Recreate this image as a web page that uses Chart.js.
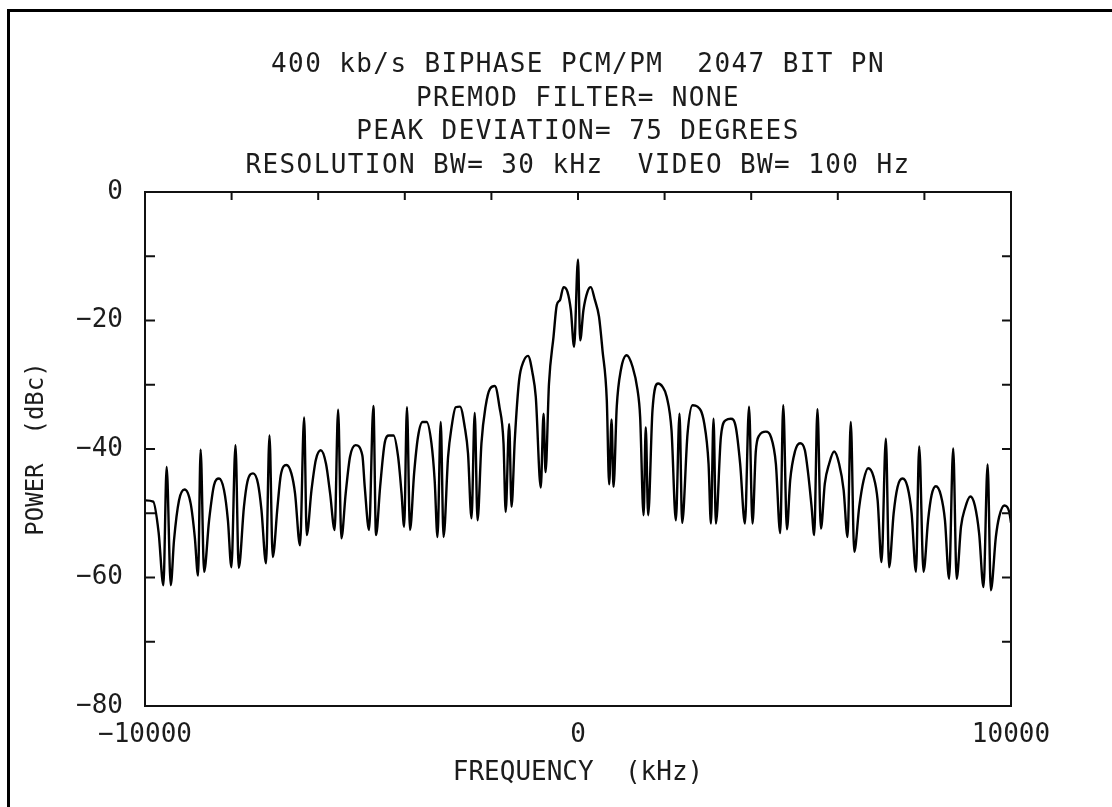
<!DOCTYPE html>
<html>
<head>
<meta charset="utf-8">
<title>Biphase PCM/PM spectrum</title>
<script src="https://cdn.jsdelivr.net/npm/chart.js@4.4.0/dist/chart.umd.min.js"></script>
<style>
  html, body { margin: 0; padding: 0; background: #fff; }
  #wrap { position: relative; width: 1112px; height: 807px; }
</style>
</head>
<body>
<div id="wrap"><canvas id="spectrum"></canvas></div>
<script>
const titleLines = [
    "400 kb/s BIPHASE PCM/PM  2047 BIT PN",
    "PREMOD FILTER= NONE",
    "PEAK DEVIATION= 75 DEGREES",
    "RESOLUTION BW= 30 kHz  VIDEO BW= 100 Hz",
];

// frequency offset (kHz) / power (dBc)
const freqKHz = [
    -10000, -9810, -9685, -9575, -9500, -9405, -9330, -9215, -9085, -8945,
    -8850, -8775, -8715, -8635, -8520, -8405, -8290, -8175, -8085, -8005,
    -7910, -7835, -7715, -7635, -7505, -7390, -7310, -7205, -7125, -7050,
    -6940, -6865, -6735, -6620, -6535, -6420, -6325, -6265, -6155, -6055,
    -5940, -5820, -5725, -5620, -5540, -5465, -5365, -5265, -5135, -4980,
    -4925, -4825, -4725, -4665, -4570, -4465, -4365, -4260, -4155, -4075,
    -4015, -3950, -3880, -3785, -3695, -3590, -3495, -3385, -3310, -3245,
    -3170, -3105, -3000, -2920, -2825, -2725, -2615, -2540, -2460, -2385,
    -2320, -2230, -2135, -2030, -1920, -1815, -1720, -1670, -1590, -1535,
    -1460, -1360, -1260, -1155, -1050, -975, -860, -795, -750, -670,
    -565, -490, -415, -335, -245, -165, -90, 0, 50, 125,
    220, 295, 390, 485, 565, 665, 720, 775, 820, 895,
    990, 1125, 1260, 1375, 1435, 1515, 1565, 1620, 1720, 1850,
    1950, 2050, 2160, 2260, 2345, 2405, 2530, 2645, 2760, 2915,
    3015, 3070, 3130, 3185, 3300, 3415, 3530, 3645, 3745, 3855,
    3950, 4030, 4105, 4185, 4340, 4455, 4570, 4670, 4740, 4825,
    4900, 5010, 5130, 5240, 5315, 5395, 5455, 5530, 5610, 5700,
    5800, 5915, 6030, 6135, 6225, 6300, 6380, 6495, 6595, 6700,
    6825, 6920, 7010, 7110, 7185, 7290, 7380, 7495, 7610, 7705,
    7805, 7880, 7980, 8085, 8165, 8265, 8380, 8475, 8570, 8665,
    8745, 8845, 8935, 9060, 9165, 9265, 9365, 9460, 9535, 9650,
    9725, 9845, 9960, 10000,
];
const powerDbc = [
    -48.0, -48.2, -53.0, -61.2, -42.8, -61.2, -54.2, -48.0, -46.3, -48.5,
    -53.7, -59.7, -40.1, -59.1, -51.1, -45.6, -44.6, -46.4, -51.1, -58.4,
    -39.4, -58.5, -49.0, -45.1, -43.8, -45.4, -49.5, -57.8, -37.9, -56.8,
    -49.0, -44.1, -42.5, -43.8, -46.9, -55.0, -35.1, -53.4, -46.4, -41.7,
    -40.2, -42.3, -46.9, -52.6, -33.9, -53.9, -46.9, -41.2, -39.4, -41.0,
    -45.9, -52.6, -33.3, -53.4, -45.9, -39.1, -37.9, -37.9, -41.2, -46.9,
    -52.1, -33.5, -52.6, -43.8, -38.1, -35.8, -35.8, -39.1, -44.9, -53.7,
    -35.8, -53.7, -41.2, -36.6, -33.5, -33.4, -36.6, -40.7, -50.8, -34.4,
    -51.1, -39.1, -33.4, -30.6, -30.2, -33.4, -39.1, -49.8, -36.1, -49.0,
    -38.6, -29.3, -26.4, -25.5, -28.2, -31.9, -46.0, -34.5, -43.6, -29.8,
    -22.5, -17.6, -16.8, -14.8, -15.5, -18.4, -24.1, -10.5, -23.1, -18.4,
    -15.5, -14.8, -16.8, -19.4, -24.6, -32.4, -45.5, -35.4, -45.9, -33.4,
    -27.7, -25.4, -27.2, -30.8, -35.0, -50.3, -36.6, -50.3, -34.0, -29.8,
    -30.3, -31.9, -37.1, -51.1, -34.5, -51.5, -37.6, -33.2, -33.4, -36.0,
    -42.3, -51.6, -35.3, -51.6, -38.1, -35.5, -35.3, -36.6, -42.3, -51.6,
    -33.4, -51.6, -40.5, -37.9, -37.3, -38.1, -42.3, -53.1, -33.2, -52.5,
    -44.9, -40.4, -39.1, -40.2, -43.8, -49.0, -53.4, -33.8, -52.4, -45.4,
    -42.3, -40.4, -42.3, -46.4, -53.7, -35.8, -56.0, -49.0, -44.9, -43.0,
    -44.3, -48.0, -57.6, -38.4, -58.4, -50.0, -45.9, -44.6, -45.9, -50.0,
    -59.1, -39.6, -59.1, -51.1, -47.2, -45.8, -47.2, -51.1, -60.2, -39.9,
    -60.2, -52.1, -49.3, -47.4, -48.8, -53.2, -61.5, -42.4, -62.0, -53.7,
    -50.6, -48.8, -49.8, -51.5,
];

const xLabelValues = [-10000, 0, 10000];
const yLabelValues = [0, -20, -40, -60, -80];

const INK = "#1c1c1c";
const MONO = '"DejaVu Sans Mono", "Liberation Mono", monospace';

// minus sign on the sheet is a long dash
const fmt = (v) => (v < 0 ? "\u2212" + Math.abs(v) : String(v));

// sheet edge, plot frame, inward tick marks and the 4-line heading
const plotterFrame = {
    id: "plotterFrame",
    beforeDraw(chart) {
        const ctx = chart.ctx;
        ctx.save();
        ctx.fillStyle = "#fff";
        ctx.fillRect(0, 0, chart.width, chart.height);
        ctx.fillStyle = "#000";
        ctx.fillRect(7, 9, 3, chart.height - 9);
        ctx.fillRect(7, 9, chart.width - 7, 3);
        ctx.restore();
    },
    afterDraw(chart) {
        const { ctx, chartArea: a, scales } = chart;
        ctx.save();
        ctx.strokeStyle = "#111";
        ctx.lineWidth = 2;
        ctx.strokeRect(a.left, a.top, a.right - a.left, a.bottom - a.top);

        ctx.beginPath();
        scales.x.ticks.forEach((t) => {
            const px = scales.x.getPixelForValue(t.value);
            ctx.moveTo(px, a.top);
            ctx.lineTo(px, a.top + 8);
        });
        scales.y.ticks.forEach((t) => {
            const py = scales.y.getPixelForValue(t.value);
            ctx.moveTo(a.left, py);
            ctx.lineTo(a.left + 10, py);
            ctx.moveTo(a.right, py);
            ctx.lineTo(a.right - 9, py);
        });
        ctx.stroke();

        ctx.fillStyle = INK;
        ctx.font = "26px " + MONO;
        ctx.letterSpacing = "1.4px";
        ctx.textAlign = "center";
        ctx.textBaseline = "alphabetic";
        const cx = (a.left + a.right) / 2;
        titleLines.forEach((line, i) => ctx.fillText(line, cx, 72 + i * 33.7));
        ctx.restore();
    },
};

const ctx = document.getElementById("spectrum");
new Chart(ctx, {
    type: "line",
    data: {
        datasets: [
            {
                label: "Power",
                data: freqKHz.map((f, i) => ({ x: f, y: powerDbc[i] })),
                borderColor: "#000",
                borderWidth: 2.4,
                pointRadius: 0,
                cubicInterpolationMode: "monotone",
                fill: false,
            },
        ],
    },
    options: {
        responsive: true,
        maintainAspectRatio: false,
        animation: false,
        devicePixelRatio: 1,
        layout: { padding: { top: 192, right: 101, bottom: 0, left: 0 } },
        plugins: {
            legend: { display: false },
            tooltip: { enabled: false },
        },
        scales: {
            x: {
                type: "linear",
                min: -10000,
                max: 10000,
                afterFit: (scale) => { scale.height = 101; },
                grid: { display: false },
                border: { display: false },
                ticks: {
                    stepSize: 2000,
                    autoSkip: false,
                    maxRotation: 0,
                    padding: 6,
                    color: INK,
                    font: { family: MONO, size: 26 },
                    callback: (v) => (xLabelValues.includes(v) ? fmt(v) : ""),
                },
                title: {
                    display: true,
                    text: "FREQUENCY  (kHz)",
                    color: INK,
                    font: { family: MONO, size: 26 },
                    padding: { top: 0, bottom: 18 },
                },
            },
            y: {
                min: -80,
                max: 0,
                afterFit: (scale) => { scale.width = 145; },
                grid: { display: false },
                border: { display: false },
                ticks: {
                    stepSize: 10,
                    autoSkip: false,
                    padding: 14,
                    color: INK,
                    font: { family: MONO, size: 26 },
                    callback: (v) => (yLabelValues.includes(v) ? fmt(v) : ""),
                },
                title: {
                    display: true,
                    text: "POWER  (dBc)",
                    color: INK,
                    font: { family: MONO, size: 24 },
                    padding: { top: 22, bottom: 0 },
                },
            },
        },
    },
    plugins: [plotterFrame],
});
</script>
</body>
</html>
